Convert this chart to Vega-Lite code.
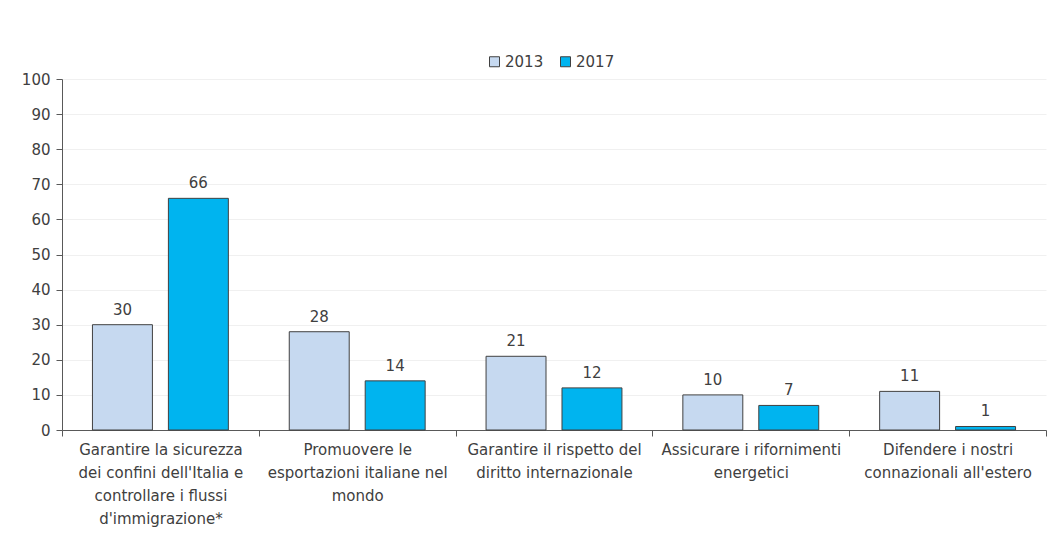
{
  "$schema": "https://vega.github.io/schema/vega-lite/v6.json",
  "autosize": {"type": "none"},
  "width": 984,
  "height": 351,
  "padding": {"left": 62, "top": 79, "right": 8, "bottom": 103},
  "background": "white",
  "data": {
    "values": [
      {"cat": "Garantire la sicurezza\ndei confini dell'Italia e\ncontrollare i flussi\nd'immigrazione*", "anno": "2013", "valore": 30},
      {"cat": "Garantire la sicurezza\ndei confini dell'Italia e\ncontrollare i flussi\nd'immigrazione*", "anno": "2017", "valore": 66},
      {"cat": "Promuovere le\nesportazioni italiane nel\nmondo", "anno": "2013", "valore": 28},
      {"cat": "Promuovere le\nesportazioni italiane nel\nmondo", "anno": "2017", "valore": 14},
      {"cat": "Garantire il rispetto del\ndiritto internazionale", "anno": "2013", "valore": 21},
      {"cat": "Garantire il rispetto del\ndiritto internazionale", "anno": "2017", "valore": 12},
      {"cat": "Assicurare i rifornimenti\nenergetici", "anno": "2013", "valore": 10},
      {"cat": "Assicurare i rifornimenti\nenergetici", "anno": "2017", "valore": 7},
      {"cat": "Difendere i nostri\nconnazionali all'estero", "anno": "2013", "valore": 11},
      {"cat": "Difendere i nostri\nconnazionali all'estero", "anno": "2017", "valore": 1}
    ]
  },
  "encoding": {
    "x": {
      "field": "cat", "type": "nominal", "sort": null,
      "scale": {"paddingInner": 0, "paddingOuter": 0},
      "axis": {
        "title": null, "labelAngle": 0, "tickBand": "extent",
        "labelExpr": "split(datum.label, '\\n')",
        "labelLineHeight": 23, "labelPadding": 6, "labelLimit": 250,
        "labelFont": "DejaVu Sans", "labelFontSize": 15, "labelColor": "#404040",
        "domainColor": "#595959", "tickColor": "#595959", "tickSize": 6,
        "labelBaseline": "top"
      }
    },
    "xOffset": {
      "field": "anno", "type": "nominal",
      "scale": {"paddingInner": 0.2105, "paddingOuter": 0.401}
    },
    "y": {
      "field": "valore", "type": "quantitative",
      "scale": {"domain": [0, 100]},
      "axis": {
        "title": null, "values": [0,10,20,30,40,50,60,70,80,90,100],
        "labelFont": "DejaVu Sans", "labelFontSize": 15, "labelColor": "#404040",
        "domainColor": "#595959", "tickColor": "#595959", "tickSize": 6,
        "labelPadding": 6, "gridColor": "#f0f0f0"
      }
    }
  },
  "layer": [
    {
      "mark": {"type": "bar", "stroke": "#404040", "strokeWidth": 1},
      "encoding": {
        "color": {
          "field": "anno", "type": "nominal",
          "scale": {"domain": ["2013", "2017"], "range": ["#c6d9f0", "#00b4ef"]},
          "legend": {
            "title": null, "orient": "none", "direction": "horizontal",
            "legendX": 425, "legendY": -25,
            "symbolType": "square", "symbolSize": 100, "symbolStrokeColor": "#404040", "symbolStrokeWidth": 1,
            "labelFont": "DejaVu Sans", "labelFontSize": 15, "labelColor": "#404040",
            "columnPadding": 14, "labelOffset": 3
          }
        }
      }
    },
    {
      "mark": {"type": "text", "dy": -7, "baseline": "bottom", "font": "DejaVu Sans", "fontSize": 15, "color": "#404040"},
      "encoding": {"text": {"field": "valore", "type": "quantitative"}}
    }
  ],
  "config": {"view": {"stroke": null}}
}
